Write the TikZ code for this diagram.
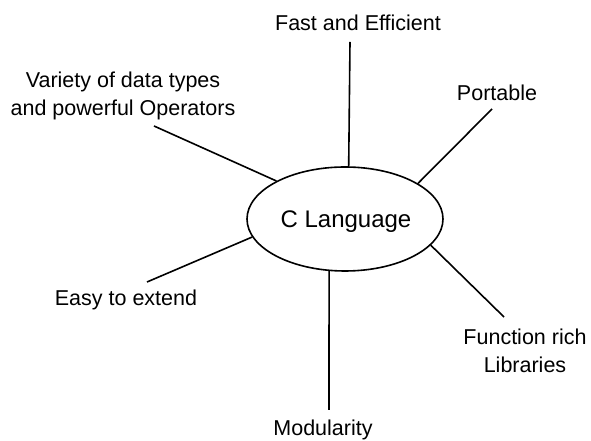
\documentclass[tikz,border=0pt]{standalone}
\usepackage{fontspec}
\setmainfont{Liberation Sans}
\usetikzlibrary{shapes.geometric}
\begin{document}
\begin{tikzpicture}[x=1pt,y=1pt,
  lbl/.style={inner sep=0pt, anchor=base, align=center, font=\fontsize{21.5}{28}\selectfont},
  spoke/.style={line width=1.6pt, black},
  hub/.style={ellipse, draw, line width=1.6pt, minimum width=196pt, minimum height=104pt, inner sep=0pt}]
\useasboundingbox (0,0) rectangle (591,441);
\node[hub] (c) at (345,222) {};
\node[inner sep=0pt, anchor=base, font=\fontsize{24}{28}\selectfont] (ct) at (346,213) {C Language};
\node[lbl] (fast) at (358,410) {Fast and Efficient};
\node[lbl] (var) at (123,325) {Variety of data types\\and powerful Operators};
\node[lbl] (port) at (497,340) {Portable};
\node[lbl] (easy) at (126,135) {Easy to extend};
\node[lbl] (func) at (525,68) {Function rich\\Libraries};
\node[lbl] (mod) at (323,5) {Modularity};
\coordinate (pfast) at (350,399);
\coordinate (pvar) at (154,315);
\coordinate (pport) at (492,332);
\coordinate (peasy) at (147,159);
\coordinate (pfunc) at (504,124);
\coordinate (pmod) at (329,31);
\draw[spoke] (pfast) -- (c.86);
\draw[spoke] (pvar) -- (c.151);
\draw[spoke] (pport) -- (c.26);
\draw[spoke] (peasy) -- (c.191.5);
\draw[spoke] (pfunc) -- (c.343.4);
\draw[spoke] (pmod) -- (c.253);
\end{tikzpicture}
\end{document}
